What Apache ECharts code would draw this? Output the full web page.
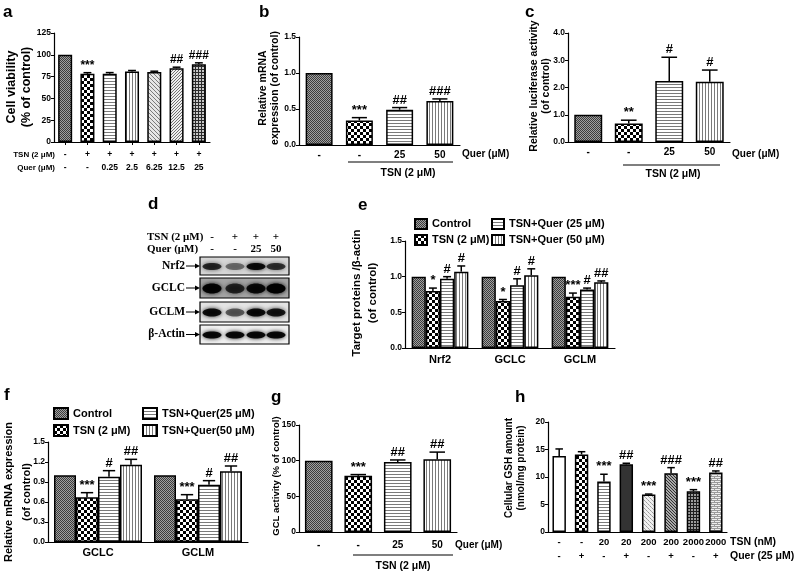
<!DOCTYPE html>
<html><head><meta charset="utf-8">
<script src="https://cdn.jsdelivr.net/npm/echarts/dist/echarts.min.js"></script>
<style>html,body{margin:0;padding:0;background:#fff}#c{width:800px;height:572px}</style>
</head><body><div id="c"></div>
<script>
// ---------------- DATA ----------------
// panel a
const aCats = ['Control','TSN','Q0.25','Q2.5','Q6.25','Q12.5','Q25'];
const aTsnRow = ['-','+','+','+','+','+','+'];
const aQuerRow = ['-','-','0.25','2.5','6.25','12.5','25'];
const aValues = [100, 78.3, 78.3, 80.8, 80.2, 84.6, 89.3];
const aErrors = [0, 1.2, 1.3, 1.2, 1.0, 1.2, 1.5];
const aMarks = ['', '***', '', '', '', '##', '###'];
// panel b
const bCats = ['Control','TSN','TSN+Q25','TSN+Q50'];
const bQuerLabels = ['-','-','25','50'];
const bValues = [1.0, 0.34, 0.49, 0.61];
const bErrors = [0, 0.04, 0.03, 0.03];
const bMarks = ['', '***', '##', '###'];
// panel c
const cCats = ['Control','TSN','TSN+Q25','TSN+Q50'];
const cQuerLabels = ['-','-','25','50'];
const cValues = [1.0, 0.68, 2.24, 2.21];
const cErrors = [0, 0.12, 0.87, 0.43];
const cMarks = ['', '**', '#', '#'];
// panel d (blot band intensities, lanes: control, TSN, TSN+Q25, TSN+Q50)
const dTsnRow = ['-','+','+','+'];
const dQuerRow = ['-','-','25','50'];
const dNrf2 = [0.75, 0.45, 0.9, 0.7];
const dGclc = [0.95, 0.72, 0.9, 1.0];
const dGclm = [0.9, 0.55, 0.9, 0.85];
const dActin = [0.92, 0.92, 0.92, 0.92];
// panel e
const eCats = ['Nrf2','GCLC','GCLM'];
const eNames = ['Control','TSN (2 μM)','TSN+Quer (25 μM)','TSN+Quer (50 μM)'];
const eControl = [1.0, 1.0, 1.0];
const eTsn = [0.80, 0.66, 0.72];
const eQ25 = [0.97, 0.88, 0.82];
const eQ50 = [1.07, 1.02, 0.92];
const eControlErr = [0, 0, 0];
const eTsnErr = [0.04, 0.02, 0.05];
const eQ25Err = [0.03, 0.09, 0.02];
const eQ50Err = [0.08, 0.09, 0.02];
const eTsnMarks = ['*','*','***'];
const eQ25Marks = ['#','#','#'];
const eQ50Marks = ['#','#','##'];
// panel f
const fCats = ['GCLC','GCLM'];
const fNames = ['Control','TSN (2 μM)','TSN+Quer(25 μM)','TSN+Quer(50 μM)'];
const fControl = [1.0, 1.0];
const fTsn = [0.67, 0.64];
const fQ25 = [0.98, 0.86];
const fQ50 = [1.16, 1.06];
const fControlErr = [0, 0];
const fTsnErr = [0.07, 0.07];
const fQ25Err = [0.09, 0.06];
const fQ50Err = [0.08, 0.08];
const fTsnMarks = ['***','***'];
const fQ25Marks = ['#','#'];
const fQ50Marks = ['##','##'];
// panel g
const gCats = ['Control','TSN','TSN+Q25','TSN+Q50'];
const gQuerLabels = ['-','-','25','50'];
const gValues = [100, 79, 98, 102];
const gErrors = [0, 1.5, 3, 10];
const gMarks = ['', '***', '##', '##'];
// panel h
const hCats = ['C','Q','T20','T20Q','T200','T200Q','T2000','T2000Q'];
const hTsnRow = ['-','-','20','20','200','200','2000','2000'];
const hQuerRow = ['-','+','-','+','-','+','-','+'];
const hValues = [13.8, 14.1, 9.2, 12.3, 6.8, 10.7, 7.4, 10.8];
const hErrors = [1.3, 0.5, 1.3, 0.2, 0.1, 1.0, 0.3, 0.3];
const hMarks = ['', '', '***', '##', '***', '###', '***', '##'];

// ---------------- STYLE HELPERS ----------------
const FONT = '"Liberation Sans", Arial, sans-serif';
const SERIF = '"Liberation Serif", "Times New Roman", serif';

function pattern(type){
  const c = document.createElement('canvas');
  const ctx = c.getContext('2d');
  function px(x,y,col){ctx.fillStyle=col;ctx.fillRect(x,y,1,1);}
  function bg(w,h,col){c.width=w;c.height=h;ctx.fillStyle=col;ctx.fillRect(0,0,w,h);}
  switch(type){
    case 'control': bg(4,4,'#a0a0a0'); for(let i=0;i<4;i++){px(i,i,'#3c3c3c');px(i,(i+2)%4,'#3c3c3c');} break;
    case 'checker': bg(6,6,'#fff'); ctx.fillStyle='#000'; ctx.fillRect(0,0,3,3); ctx.fillRect(3,3,3,3); break;
    case 'hlines': bg(1,3,'#fff'); px(0,0,'#7a7a7a'); break;
    case 'vlines': bg(3,1,'#fff'); px(0,0,'#7a7a7a'); break;
    case 'diagA': bg(4,4,'#e6e6e6'); for(let i=0;i<4;i++){px(i,i,'#7a7a7a');} break;
    case 'diagB': bg(3,3,'#efefef'); for(let i=0;i<3;i++){px(i,2-i,'#707070');} break;
    case 'grid': bg(3,3,'#c8c8c8'); ctx.fillStyle='#2a2a2a'; ctx.fillRect(0,0,3,1); ctx.fillRect(0,0,1,3); break;
    case 'white': bg(2,2,'#fff'); break;
    case 'solid': bg(2,2,'#333'); break;
    case 'dotsL': bg(4,4,'#f0f0f0'); px(0,0,'#9a9a9a'); px(1,1,'#b0b0b0'); px(2,2,'#9a9a9a'); px(3,3,'#b0b0b0'); break;
    case 'diagDark': bg(3,3,'#a8a8a8'); for(let i=0;i<3;i++){px(i,i,'#303030');} break;
    case 'gridDark': bg(3,3,'#9c9c9c'); ctx.fillStyle='#1e1e1e'; ctx.fillRect(0,0,1,3); ctx.fillRect(0,1,3,1); break;
    case 'brick': bg(6,4,'#eeeeee'); ctx.fillStyle='#9a9a9a'; ctx.fillRect(0,0,6,1); ctx.fillRect(0,2,6,1); px(0,1,'#9a9a9a'); px(3,3,'#9a9a9a'); break;
  }
  return {image: c, repeat: 'repeat'};
}
const P = {};
['control','checker','hlines','vlines','diagA','diagB','grid','white','solid','dotsL','diagDark','gridDark','brick'].forEach(t=>P[t]=pattern(t));

const aPats = [P.control, P.checker, P.hlines, P.vlines, P.diagA, P.diagB, P.grid];
const bPats = [P.control, P.checker, P.hlines, P.vlines];
const hPats = [P.white, P.checker, P.hlines, P.solid, P.dotsL, P.diagDark, P.gridDark, P.brick];

function yAx(grid, min, max, interval, dec){
  return {type:'value', gridIndex:grid, min, max, interval,
    axisLine:{show:true, lineStyle:{color:'#000', width:1.2}},
    axisTick:{show:true, length:3, lineStyle:{color:'#000', width:1}},
    splitLine:{show:false},
    axisLabel:{color:'#000', fontSize:8.5, fontWeight:'bold', fontFamily:FONT, margin:3,
      formatter: v => v.toFixed(dec)}};
}
function xAx(grid, cats, labelFn, fontSize, margin, ticks, lineHeight){
  return {type:'category', gridIndex:grid, data:cats,
    axisLine:{show:true, lineStyle:{color:'#000', width:1.2}},
    axisTick:{show:ticks, alignWithLabel:true, length:3, lineStyle:{color:'#000'}},
    splitLine:{show:false},
    axisLabel:{color:'#000', fontSize, fontWeight:'bold', fontFamily:FONT, margin, interval:0,
      lineHeight: lineHeight || fontSize+2,
      formatter: (v, i) => labelFn(i)}};
}
function errRender(marks, nSer, sIdx, gap, markFont){
  return function(params, api){
    const k = params.dataIndex;
    const cat = api.value(0), v = api.value(1), e = api.value(2);
    const p0 = api.coord([cat, v]);
    const p1 = api.coord([cat, v + e]);
    const band = api.size([1, 0])[0];
    const groupW = band * (1 - gap);
    const bw = groupW / nSer;
    const x = p0[0] - groupW / 2 + bw * (sIdx + 0.5);
    const cap = Math.max(3, bw * 0.28);
    const ch = [];
    if (e > 0) {
      ch.push({type:'line', shape:{x1:x, y1:p0[1], x2:x, y2:p1[1]}, style:{stroke:'#000', lineWidth:1.5}});
      ch.push({type:'line', shape:{x1:x-cap, y1:p1[1], x2:x+cap, y2:p1[1]}, style:{stroke:'#000', lineWidth:1.5}});
    }
    const m = marks[k];
    if (m) ch.push({type:'text', style:{text:m, x:x, y:p1[1]-1, align:'center', verticalAlign:'bottom', font:markFont, fill:'#000'}});
    return {type:'group', children: ch};
  };
}
function singleBars(idx, name, vals, pats, gap){
  return {type:'bar', name, xAxisIndex:idx, yAxisIndex:idx, barCategoryGap:gap+'%', silent:true,
    itemStyle:{borderColor:'#000', borderWidth:1.5},
    data: vals.map((v,k)=>({value:v, itemStyle:{color:pats[k]}}))};
}
function errSeries(idx, name, vals, errs, marks, nSer, sIdx, gap, markFont){
  return {type:'custom', name, xAxisIndex:idx, yAxisIndex:idx, silent:true, z:5,
    encode:{x:0, y:1},
    data: vals.map((v,k)=>[k, v, errs[k]]),
    renderItem: errRender(marks, nSer, sIdx, gap/100, markFont)};
}
const MF = 'bold 13px ' + FONT;
const MFs = 'bold 12px ' + FONT;

// ---------------- LAYOUT ----------------
const grids = [
  {left:54, top:33, width:156, height:109},   // a
  {left:299, top:37, width:161, height:108},  // b
  {left:568, top:33, width:162, height:109},  // c
  {left:405, top:241, width:210, height:107}, // e
  {left:48, top:442, width:200, height:100},  // f
  {left:299, top:425, width:158, height:107}, // g
  {left:548, top:422, width:179, height:110}  // h
];

const series = [];
series.push(singleBars(0, 'a', aValues, aPats, 37));
series.push(errSeries(0, 'a-err', aValues, aErrors, aMarks, 1, 0, 37, MFs));
series.push(singleBars(1, 'b', bValues, bPats, 33));
series.push(errSeries(1, 'b-err', bValues, bErrors, bMarks, 1, 0, 33, MF));
series.push(singleBars(2, 'c', cValues, bPats, 31));
series.push(errSeries(2, 'c-err', cValues, cErrors, cMarks, 1, 0, 31, MF));
const eSets = [[eControl, eControlErr, ['','',''], P.control],[eTsn, eTsnErr, eTsnMarks, P.checker],[eQ25, eQ25Err, eQ25Marks, P.hlines],[eQ50, eQ50Err, eQ50Marks, P.vlines]];
eSets.forEach((s, i) => {
  series.push({type:'bar', name:eNames[i], xAxisIndex:3, yAxisIndex:3, barGap:'0%', barCategoryGap:'19%', silent:true,
    itemStyle:{color:s[3], borderColor:'#000', borderWidth:1.5}, data:s[0]});
});
eSets.forEach((s, i) => series.push(errSeries(3, 'e-err'+i, s[0], s[1], s[2], 4, i, 19, MF)));
const fSets = [[fControl, fControlErr, ['',''], P.control],[fTsn, fTsnErr, fTsnMarks, P.checker],[fQ25, fQ25Err, fQ25Marks, P.hlines],[fQ50, fQ50Err, fQ50Marks, P.vlines]];
fSets.forEach((s, i) => {
  series.push({type:'bar', name:fNames[i], xAxisIndex:4, yAxisIndex:4, barGap:'0%', barCategoryGap:'12%', silent:true,
    itemStyle:{color:s[3], borderColor:'#000', borderWidth:1.5}, data:s[0]});
});
fSets.forEach((s, i) => series.push(errSeries(4, 'f-err'+i, s[0], s[1], s[2], 4, i, 12, MF)));
series.push(singleBars(5, 'g', gValues, bPats, 30));
series.push(errSeries(5, 'g-err', gValues, gErrors, gMarks, 1, 0, 30, MF));
series.push(singleBars(6, 'h', hValues, hPats, 40));
series.push(errSeries(6, 'h-err', hValues, hErrors, hMarks, 1, 0, 40, MF));

const xAxes = [
  xAx(0, aCats, i => aTsnRow[i] + '\n' + aQuerRow[i], 8.5, 6, true, 13),
  xAx(1, bCats, i => bQuerLabels[i], 10, 4, false),
  xAx(2, cCats, i => cQuerLabels[i], 10, 4, false),
  xAx(3, eCats, i => eCats[i], 11, 5, false),
  xAx(4, fCats, i => fCats[i], 11, 4, false),
  xAx(5, gCats, i => gQuerLabels[i], 10, 7, false),
  xAx(6, hCats, i => hTsnRow[i] + '\n' + hQuerRow[i], 9.5, 3, false, 14)
];
const yAxes = [
  yAx(0, 0, 125, 25, 0), yAx(1, 0, 1.5, 0.5, 1), yAx(2, 0, 4, 1, 1),
  yAx(3, 0, 1.5, 0.5, 1), yAx(4, 0, 1.5, 0.3, 1), yAx(5, 0, 150, 50, 0), yAx(6, 0, 20, 5, 0)
];

// ---------------- GRAPHICS (text, blot) ----------------
const g = [];
function txt(x, y, text, font, align, vAlign, rot, lh){
  g.push({type:'text', x, y, rotation: rot||0, silent:true,
    style:{text, font, fill:'#000', align:align||'left', verticalAlign:vAlign||'middle', lineHeight: lh||undefined}});
}
function line(x1,y1,x2,y2,w){ g.push({type:'line', silent:true, shape:{x1,y1,x2,y2}, style:{stroke:'#000', lineWidth:w||1.5}}); }
const R = Math.PI/2;
[['a',3,12],['b',259,12],['c',525,12],['d',148,204],['e',358,205],['f',4,395],['g',271,397],['h',515,397]]
  .forEach(p => txt(p[1], p[2], p[0], 'bold 17px ' + FONT));
txt(19, 87, 'Cell viability\n(% of control)', 'bold 12.5px ' + FONT, 'center', 'middle', R, 15);
txt(269, 88, 'Relative mRNA\nexpression (of control)', 'bold 10.5px ' + FONT, 'center', 'middle', R, 12);
txt(540, 86, 'Relative luciferase activity\n(of control)', 'bold 10.5px ' + FONT, 'center', 'middle', R, 12);
txt(365, 293, 'Target proteins /β-actin\n(of control)', 'bold 11.5px ' + FONT, 'center', 'middle', R, 16);
txt(18, 492, 'Relative mRNA expression\n(of control)', 'bold 11px ' + FONT, 'center', 'middle', R, 18);
txt(276, 476, 'GCL activity (% of control)', 'bold 9.5px ' + FONT, 'center', 'middle', R);
txt(515, 468, 'Cellular GSH amount\n(nmol/mg protein)', 'bold 10px ' + FONT, 'center', 'middle', R, 12);
txt(55, 155, 'TSN (2 μM)', 'bold 8px ' + FONT, 'right');
txt(55, 168, 'Quer (μM)', 'bold 8px ' + FONT, 'right');
txt(462, 154, 'Quer (μM)', 'bold 10px ' + FONT, 'left');
line(348, 162, 453, 162, 1.2);
txt(408, 173, 'TSN (2 μM)', 'bold 10.5px ' + FONT, 'center');
txt(732, 154, 'Quer (μM)', 'bold 10px ' + FONT, 'left');
line(623, 165, 720, 165, 1.2);
txt(673, 174, 'TSN (2 μM)', 'bold 10.5px ' + FONT, 'center');
txt(455, 545, 'Quer (μM)', 'bold 10px ' + FONT, 'left');
line(353, 555, 453, 555, 1.2);
txt(403, 566, 'TSN (2 μM)', 'bold 10.5px ' + FONT, 'center');
txt(730, 542, 'TSN (nM)', 'bold 10.5px ' + FONT, 'left');
txt(730, 556, 'Quer (25 μM)', 'bold 10.5px ' + FONT, 'left');
// d: blot
txt(147, 237, 'TSN (2 μM)', 'bold 11px ' + SERIF, 'left');
txt(147, 249, 'Quer (μM)', 'bold 11px ' + SERIF, 'left');
const lanes = [212, 235, 256, 276];
dTsnRow.forEach((s,i) => txt(lanes[i], 237, s, 'bold 11px ' + SERIF, 'center'));
dQuerRow.forEach((s,i) => txt(lanes[i], 249, s, 'bold 11px ' + SERIF, 'center'));
const blots = [
  {label:'Nrf2', y:257, h:18, bg:'#d6d6d6', band:dNrf2, ry:3.5},
  {label:'GCLC', y:278, h:20, bg:'#a4a4a4', band:dGclc, ry:5},
  {label:'GCLM', y:302, h:20, bg:'#e4e4e4', band:dGclm, ry:4},
  {label:'β-Actin', y:325, h:19, bg:'#f0f0f0', band:dActin, ry:3.5}
];
blots.forEach(b => {
  g.push({type:'rect', silent:true, shape:{x:200, y:b.y, width:89, height:b.h}, style:{fill:b.bg, stroke:'#000', lineWidth:1.2}});
  b.band.forEach((a,i) => {
    g.push({type:'ellipse', silent:true, shape:{cx:lanes[i], cy:b.y + b.h/2 + 0.5, rx:9.5, ry:b.ry},
      style:{fill:'rgba(0,0,0,'+a+')', shadowBlur:4, shadowColor:'rgba(0,0,0,'+a+')'}});
  });
  txt(185, b.y + b.h/2, b.label, 'bold 11.5px ' + SERIF, 'right');
  line(186, b.y + b.h/2, 198, b.y + b.h/2, 1);
  g.push({type:'polygon', silent:true, shape:{points:[[200, b.y+b.h/2],[195, b.y+b.h/2-2.5],[195, b.y+b.h/2+2.5]]}, style:{fill:'#000'}});
});

const legendBase = {orient:'vertical', icon:'rect', padding:0, selectedMode:false,
  textStyle:{fontSize:11, fontWeight:'bold', color:'#000', fontFamily:FONT}};
const option = {
  animation:false,
  textStyle:{fontFamily:FONT},
  grid: grids,
  xAxis: xAxes,
  yAxis: yAxes,
  legend: [
    Object.assign({}, legendBase, {data:[eNames[0], eNames[1]], left:414, top:218, itemWidth:12, itemHeight:10, itemGap:4}),
    Object.assign({}, legendBase, {data:[eNames[2], eNames[3]], left:491, top:218, itemWidth:12, itemHeight:10, itemGap:4}),
    Object.assign({}, legendBase, {data:[fNames[0], fNames[1]], left:53, top:407, itemWidth:14, itemHeight:11, itemGap:4}),
    Object.assign({}, legendBase, {data:[fNames[2], fNames[3]], left:142, top:407, itemWidth:14, itemHeight:11, itemGap:4})
  ],
  series,
  graphic: g
};
const chart = echarts.init(document.getElementById('c'), null, {renderer:'canvas'});
chart.setOption(option);
</script></body></html>
